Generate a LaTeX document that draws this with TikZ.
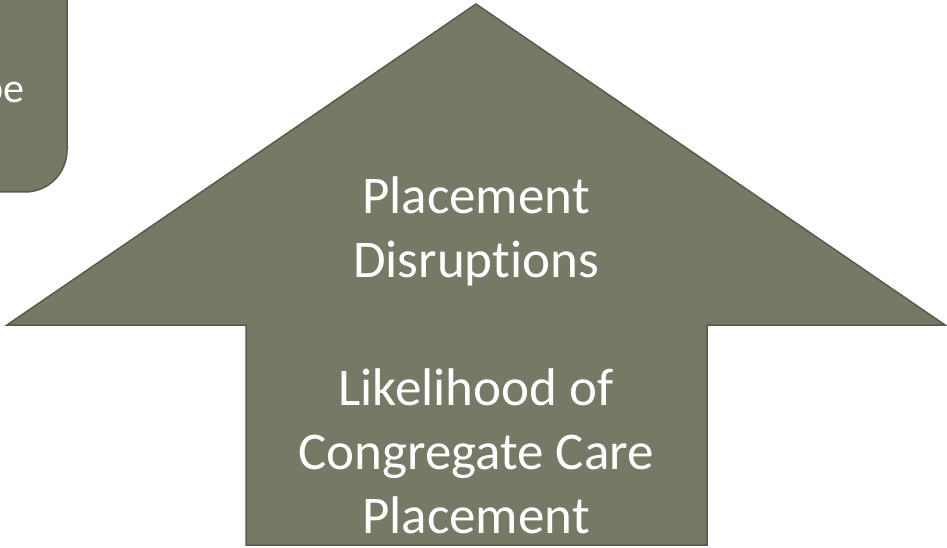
\documentclass[tikz,border=0pt]{standalone}
\usepackage{fontspec}
\setmainfont{Carlito}[Ligatures=NoCommon]
\usepackage{tikz}
\usetikzlibrary{positioning}
\definecolor{olivegrey}{RGB}{119,120,102}
\definecolor{olivedark}{RGB}{88,90,74}

\begin{document}
\begin{tikzpicture}[x=1pt,y=-1pt]
\useasboundingbox(0,0)rectangle(947,548);
\clip(0,0)rectangle(947,548);
% box cut off at the top left
\draw[fill=olivegrey,draw=olivedark,line width=1.5pt,rounded corners=42pt](-80,-80)--(67,-80)--(67,192)--(-80,192)--cycle;
\node[text=white,font=\fontsize{42}{50}\selectfont,anchor=base east,inner sep=0pt](cut)at(25,103){be};
% the up arrow
\draw[fill=olivegrey,draw=olivedark,line width=1.5pt](476,4)--(945,325)--(707,325)--(707,545)--(246,545)--(246,325)--(7,325)--cycle;
\node[text=white,align=center,font=\fontsize{53}{64}\selectfont](label)at(476,355){Placement\\Disruptions\\[64pt]Likelihood of\\Congregate Care\\Placement};
\end{tikzpicture}
\end{document}
